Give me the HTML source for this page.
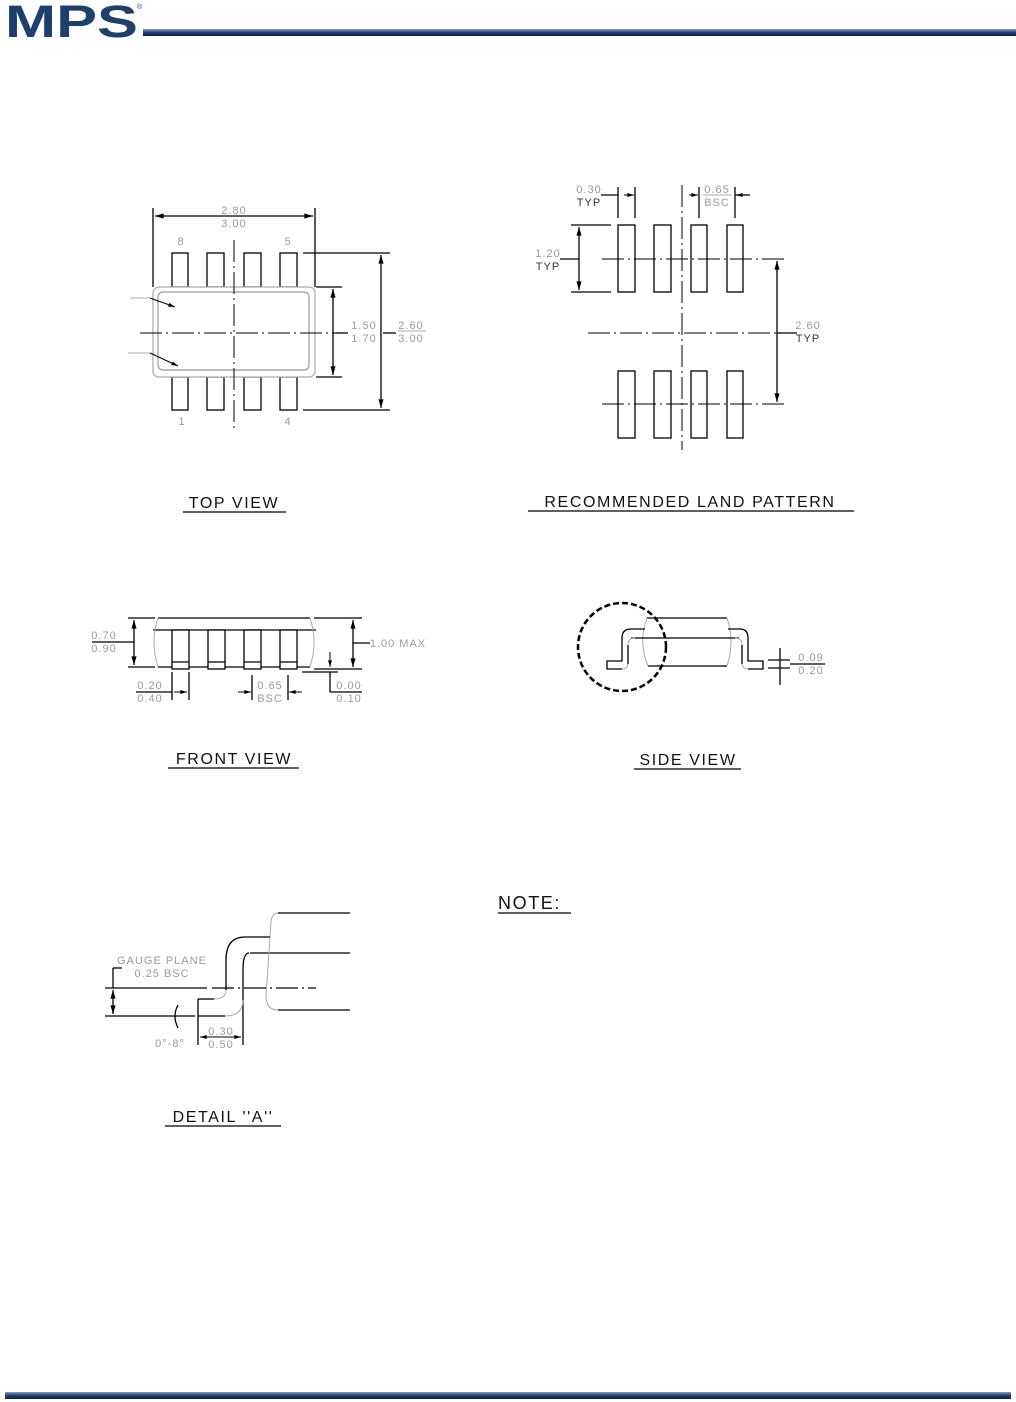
<!DOCTYPE html>
<html><head><meta charset="utf-8"><style>
html,body{margin:0;padding:0;background:#fff;}
svg{display:block;}
.d{font-family:"Liberation Sans",sans-serif;font-size:11px;fill:#9a9a9a;letter-spacing:1px;}
.t{font-family:"Liberation Sans",sans-serif;font-size:16px;fill:#111;letter-spacing:1.6px;}
.k{stroke:#000;stroke-width:1.3;fill:none;}
.g{stroke:#aaa;stroke-width:1;fill:none;}
.c{stroke:#000;stroke-width:1;fill:none;stroke-dasharray:22 4 2 4;}
</style></head><body>
<svg width="1016" height="1402" viewBox="0 0 1016 1402" xmlns="http://www.w3.org/2000/svg">
<defs>
<marker id="a" viewBox="0 0 10 6" refX="10" refY="3" markerWidth="8" markerHeight="4" orient="auto-start-reverse"><path d="M0,0 L10,3 L0,6z" fill="#000"/></marker>
<linearGradient id="lg" x1="0" y1="0" x2="0" y2="1"><stop offset="0" stop-color="#8aa0c0"/><stop offset="0.5" stop-color="#1f3f73"/><stop offset="1" stop-color="#0d2347"/></linearGradient>
</defs>
<!-- header -->
<text x="5" y="37" font-family="Liberation Sans,sans-serif" font-weight="bold" font-size="45" fill="#1d3f6e" textLength="133" lengthAdjust="spacingAndGlyphs">MPS</text>
<text x="137" y="9" font-family="Liberation Sans,sans-serif" font-size="7" fill="#1d3f6e">®</text>
<rect x="143" y="29" width="873" height="7" fill="url(#lg)"/>
<rect x="5" y="1392" width="1006" height="7" fill="url(#lg)"/>

<!-- TOP VIEW -->
<g>
<line class="k" x1="153" y1="208" x2="153" y2="287"/><line class="k" x1="315" y1="208" x2="315" y2="287"/>
<line class="k" x1="155" y1="216" x2="313" y2="216" marker-start="url(#a)" marker-end="url(#a)"/>
<text class="d" x="234" y="214" text-anchor="middle">2.80</text><text class="d" x="234" y="227" text-anchor="middle">3.00</text>
<text class="d" x="181" y="245" text-anchor="middle">8</text><text class="d" x="288" y="245" text-anchor="middle">5</text>
<text class="d" x="182" y="425" text-anchor="middle">1</text><text class="d" x="288" y="425" text-anchor="middle">4</text>
<g class="k">
<rect x="172" y="253" width="16" height="34"/><rect x="207" y="253" width="17" height="34"/><rect x="244" y="253" width="17" height="34"/><rect x="280" y="253" width="17" height="34"/>
<rect x="172" y="377" width="16" height="33"/><rect x="207" y="377" width="17" height="33"/><rect x="244" y="377" width="17" height="33"/><rect x="280" y="377" width="17" height="33"/>
</g>
<rect x="153" y="287" width="162" height="90" rx="6" fill="#fff" stroke="#aaa" stroke-width="1.2"/>
<rect x="158" y="292" width="151" height="78" rx="5" fill="none" stroke="#999" stroke-width="1.2"/>
<line class="c" x1="140" y1="333" x2="335" y2="333"/>
<line class="c" x1="234" y1="240" x2="234" y2="428"/>
<line class="g" x1="130" y1="298" x2="150" y2="298"/><line x1="150" y1="298" x2="175" y2="307" stroke="#000" stroke-width="1" marker-end="url(#a)"/>
<line class="g" x1="128" y1="353" x2="150" y2="353"/><line x1="150" y1="353" x2="178" y2="366" stroke="#000" stroke-width="1" marker-end="url(#a)"/>
<line class="k" x1="303" y1="253" x2="390" y2="253"/><line class="k" x1="303" y1="410" x2="390" y2="410"/>
<line class="k" x1="381" y1="255" x2="381" y2="408" marker-start="url(#a)" marker-end="url(#a)"/>
<line class="k" x1="316" y1="287" x2="342" y2="287"/><line class="k" x1="316" y1="377" x2="342" y2="377"/>
<line class="k" x1="333" y1="289" x2="333" y2="375" marker-start="url(#a)" marker-end="url(#a)"/>
<line class="k" x1="335" y1="333" x2="348" y2="333"/><line class="k" x1="383" y1="333" x2="396" y2="333"/>
<text class="d" x="364" y="329" text-anchor="middle">1.50</text><text class="d" x="364" y="342" text-anchor="middle">1.70</text>
<line class="g" x1="398" y1="331" x2="426" y2="331"/>
<text class="d" x="411" y="329" text-anchor="middle">2.60</text><text class="d" x="411" y="342" text-anchor="middle">3.00</text>
<text class="t" x="234" y="508" text-anchor="middle">TOP VIEW</text><line x1="183" y1="512" x2="286" y2="512" stroke="#000" stroke-width="1.3"/>
</g>

<!-- LAND PATTERN -->
<g>
<g class="k">
<rect x="618" y="225" width="17" height="67"/><rect x="654" y="225" width="17" height="67"/><rect x="691" y="225" width="16" height="67"/><rect x="727" y="225" width="16" height="67"/>
<rect x="618" y="371" width="17" height="67"/><rect x="654" y="371" width="17" height="67"/><rect x="691" y="371" width="16" height="67"/><rect x="727" y="371" width="16" height="67"/>
</g>
<line class="c" x1="602" y1="259" x2="787" y2="259"/>
<line class="c" x1="602" y1="404" x2="787" y2="404"/>
<line class="c" x1="588" y1="333" x2="785" y2="333"/>
<line class="c" x1="682" y1="185" x2="682" y2="450"/>
<line class="k" x1="571" y1="225" x2="611" y2="225"/><line class="k" x1="571" y1="292" x2="611" y2="292"/>
<line class="k" x1="579" y1="227" x2="579" y2="290" marker-start="url(#a)" marker-end="url(#a)"/>
<line class="k" x1="560" y1="259" x2="579" y2="259"/>
<text class="d" x="548" y="257" text-anchor="middle">1.20</text><text class="d" x="548" y="270" text-anchor="middle" style="fill:#333">TYP</text>
<line class="k" x1="618" y1="187" x2="618" y2="218"/><line class="k" x1="635" y1="187" x2="635" y2="218"/>
<line class="k" x1="601" y1="195" x2="618" y2="195"/><line x1="624" y1="195" x2="634" y2="195" stroke="#000" marker-end="url(#a)"/>
<text class="d" x="589" y="193" text-anchor="middle">0.30</text><text class="d" x="589" y="206" text-anchor="middle" style="fill:#333">TYP</text>
<line class="k" x1="699" y1="187" x2="699" y2="218"/><line class="k" x1="735" y1="187" x2="735" y2="218"/>
<line x1="689" y1="195" x2="698" y2="195" stroke="#000" marker-end="url(#a)"/><line x1="745" y1="195" x2="736" y2="195" stroke="#000" marker-end="url(#a)"/>
<line class="k" x1="735" y1="195" x2="750" y2="195"/>
<line class="g" x1="703" y1="195" x2="732" y2="195"/>
<text class="d" x="717" y="193" text-anchor="middle">0.65</text><text class="d" x="717" y="206" text-anchor="middle">BSC</text>
<line class="k" x1="777" y1="261" x2="777" y2="402" marker-start="url(#a)" marker-end="url(#a)"/>
<line class="k" x1="777" y1="333" x2="797" y2="333"/>
<text class="d" x="808" y="329" text-anchor="middle">2.60</text><text class="d" x="808" y="342" text-anchor="middle" style="fill:#333">TYP</text>
<text class="t" x="690" y="507" text-anchor="middle">RECOMMENDED LAND PATTERN</text><line x1="528" y1="511" x2="854" y2="511" stroke="#000" stroke-width="1.3"/>
</g>

<!-- FRONT VIEW -->
<g>
<line class="k" x1="158" y1="618" x2="310" y2="618"/><line class="k" x1="153" y1="630" x2="316" y2="630"/>
<line class="k" x1="158" y1="667" x2="310" y2="667"/>
<path class="g" d="M158,618 Q150,642 158,667 M310,618 Q318,642 310,667"/>
<g class="k">
<rect x="172" y="630" width="17" height="39" fill="#fff"/><rect x="208" y="630" width="17" height="39" fill="#fff"/><rect x="244" y="630" width="17" height="39" fill="#fff"/><rect x="280" y="630" width="17" height="39" fill="#fff"/>
<line x1="172" y1="662" x2="189" y2="662"/><line x1="208" y1="662" x2="225" y2="662"/><line x1="244" y1="662" x2="261" y2="662"/><line x1="280" y1="662" x2="297" y2="662"/>
</g>
<line class="k" x1="128" y1="618" x2="155" y2="618"/><line class="k" x1="128" y1="667" x2="155" y2="667"/>
<line class="k" x1="134" y1="620" x2="134" y2="665" marker-start="url(#a)" marker-end="url(#a)"/>
<line class="k" x1="92" y1="642" x2="134" y2="642"/>
<text class="d" x="104" y="639" text-anchor="middle">0.70</text><text class="d" x="104" y="652" text-anchor="middle">0.90</text>
<line class="k" x1="314" y1="618" x2="362" y2="618"/><line class="k" x1="314" y1="669" x2="362" y2="669"/>
<line class="k" x1="353" y1="620" x2="353" y2="667" marker-start="url(#a)" marker-end="url(#a)"/>
<line class="k" x1="353" y1="643" x2="370" y2="643"/>
<text class="d" x="398" y="647" text-anchor="middle">1.00 MAX</text>
<line class="k" x1="302" y1="672" x2="338" y2="672"/>
<line x1="330" y1="652" x2="330" y2="667" stroke="#000" marker-end="url(#a)"/><line class="k" x1="330" y1="672" x2="330" y2="692"/>
<line class="k" x1="330" y1="692" x2="362" y2="692"/>
<text class="d" x="349" y="689" text-anchor="middle">0.00</text><text class="d" x="349" y="702" text-anchor="middle">0.10</text>
<line class="k" x1="172" y1="672" x2="172" y2="700"/><line class="k" x1="189" y1="672" x2="189" y2="700"/>
<line class="k" x1="136" y1="692" x2="172" y2="692"/><line x1="174" y1="692" x2="187" y2="692" stroke="#000" marker-end="url(#a)"/>
<text class="d" x="150" y="689" text-anchor="middle">0.20</text><text class="d" x="150" y="702" text-anchor="middle">0.40</text>
<line class="k" x1="252" y1="675" x2="252" y2="700"/><line class="k" x1="288" y1="675" x2="288" y2="700"/>
<line x1="238" y1="692" x2="251" y2="692" stroke="#000" marker-end="url(#a)"/><line x1="302" y1="692" x2="289" y2="692" stroke="#000" marker-end="url(#a)"/>
<text class="d" x="270" y="689" text-anchor="middle">0.65</text><text class="d" x="270" y="702" text-anchor="middle">BSC</text>
<text class="t" x="234" y="764" text-anchor="middle">FRONT VIEW</text><line x1="168" y1="768" x2="299" y2="768" stroke="#000" stroke-width="1.3"/>
</g>

<!-- SIDE VIEW -->
<g>
<line class="k" x1="647" y1="618" x2="727" y2="618"/><line class="k" x1="648" y1="666" x2="727" y2="666"/>
<path class="g" d="M647,618 Q638,642 648,666 M727,618 Q735,642 727,666"/>
<line class="k" x1="631" y1="638" x2="739" y2="638"/>
<path class="k" d="M645,629 L631,629 Q622,629 622,638 L622,661 L607,661 L607,669 L622,669"/>
<path class="g" d="M622,669 Q628,669 628,662 L628,645 Q628,638 635,638"/>
<path class="k" d="M628,645 L628,664"/>
<path class="k" d="M728,629 L740,629 Q748,629 748,638 L748,661 L763,661 L763,669 L748,669"/>
<path class="g" d="M748,669 Q742,669 742,662 L742,645 Q742,638 735,638"/>
<path class="k" d="M742,645 L742,664"/>
<circle cx="622" cy="647" r="44" fill="none" stroke="#000" stroke-width="2.5" stroke-dasharray="6 3"/>
<line class="k" x1="768" y1="660" x2="790" y2="660"/><line class="k" x1="768" y1="668" x2="790" y2="668"/>
<line class="k" x1="780" y1="648" x2="780" y2="685"/>
<line class="k" x1="790" y1="664" x2="825" y2="664"/>
<text class="d" x="811" y="661" text-anchor="middle">0.09</text><text class="d" x="811" y="674" text-anchor="middle">0.20</text>
<text class="t" x="688" y="765" text-anchor="middle">SIDE VIEW</text><line x1="634" y1="769" x2="741" y2="769" stroke="#000" stroke-width="1.3"/>
</g>

<!-- DETAIL A -->
<g>
<line class="k" x1="278" y1="913" x2="350" y2="913"/>
<line class="k" x1="250" y1="953" x2="350" y2="953"/>
<line class="k" x1="278" y1="1010" x2="350" y2="1010"/>
<path class="g" d="M278,913 Q272,913 271,922 L266,996 Q266,1010 278,1010"/>
<path class="k" d="M270,937 L245,937 Q226,937 226,960 L226,990 M249,953 Q243,953 243,970 L243,1016"/>
<path class="g" d="M226,990 Q226,999 214,999 L198,999 M243,1000 Q243,1016 225,1016"/>
<line class="k" x1="198" y1="999" x2="214" y2="999"/>
<line class="k" x1="198" y1="999" x2="198" y2="1045"/>
<line class="k" x1="198" y1="1016" x2="225" y2="1016"/>
<line class="k" x1="105" y1="988" x2="207" y2="988"/>
<line class="k" x1="212" y1="988" x2="316" y2="988" stroke-dasharray="22 4 2 4"/>
<line class="k" x1="105" y1="1016" x2="195" y2="1016"/>
<line class="k" x1="113" y1="968" x2="122" y2="968"/><line class="k" x1="113" y1="968" x2="113" y2="988"/>
<line class="k" x1="113" y1="990" x2="113" y2="1014" marker-start="url(#a)" marker-end="url(#a)"/>
<text class="d" x="162" y="964" text-anchor="middle">GAUGE PLANE</text><text class="d" x="162" y="977" text-anchor="middle">0.25 BSC</text>
<path class="k" d="M178,1005 Q172,1016 178,1028" stroke-width="1"/>
<text class="d" x="170" y="1047" text-anchor="middle">0°-8°</text>
<line class="k" x1="243" y1="1016" x2="243" y2="1045"/>
<line x1="200" y1="1037" x2="241" y2="1037" stroke="#000" marker-start="url(#a)" marker-end="url(#a)"/>
<text class="d" x="221" y="1035" text-anchor="middle">0.30</text><text class="d" x="221" y="1048" text-anchor="middle">0.50</text>
<text class="t" x="223" y="1122" text-anchor="middle">DETAIL ''A''</text><line x1="165" y1="1126" x2="281" y2="1126" stroke="#000" stroke-width="1.3"/>
</g>

<text class="t" x="498" y="909" style="font-size:18px">NOTE:</text><line x1="498" y1="913" x2="571" y2="913" stroke="#000" stroke-width="1.3"/>
</svg>
</body></html>
